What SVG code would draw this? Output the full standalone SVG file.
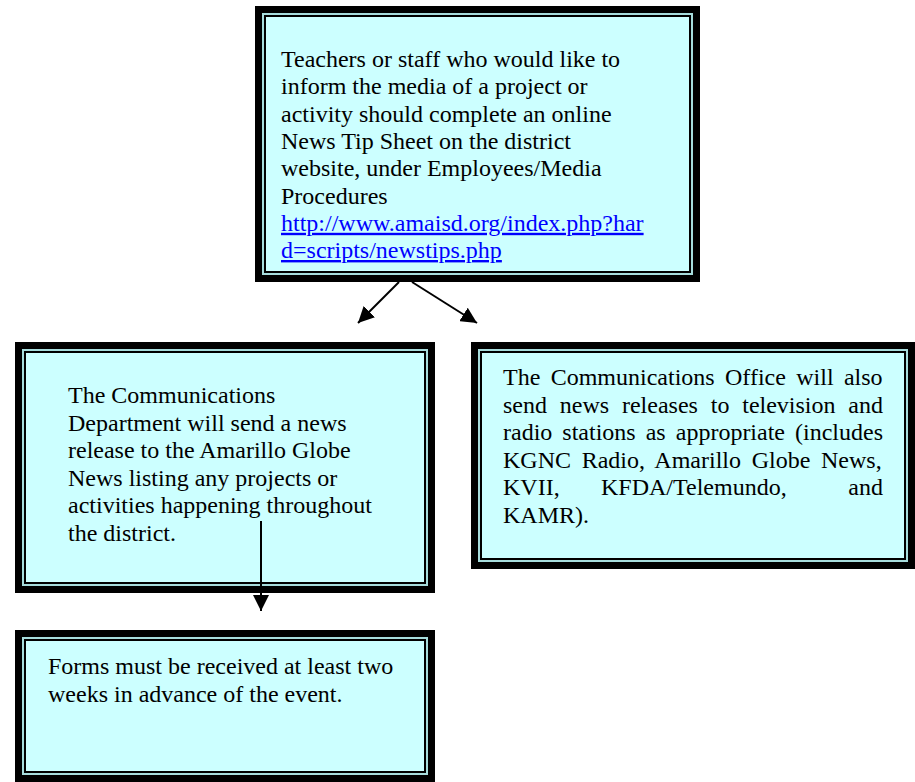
<svg xmlns="http://www.w3.org/2000/svg" width="915" height="782" viewBox="0 0 915 782">
<style>
.o{fill:#000}
.l{fill:#a6dcdc}
.f{fill:#ccffff}
text{font-family:"Liberation Serif","Times New Roman",serif;font-size:24px;fill:#000}
.lnk{fill:#0000ff;text-decoration:underline}
.c{stroke:#000;stroke-width:2;fill:none}
</style>
<defs>
<marker id="ah" viewBox="0 0 16 16" refX="16" refY="8" markerWidth="16" markerHeight="16" markerUnits="userSpaceOnUse" orient="auto">
<path d="M0,0 L16,8 L0,16 Z" fill="#000"/>
</marker>
</defs>
<rect width="915" height="782" fill="#fff"/>

<g id="top">
<rect class="o" x="255" y="6" width="445" height="276"/>
<rect class="l" x="262" y="13" width="431" height="262"/>
<rect class="o" x="264" y="15" width="427" height="258"/>
<rect class="f" x="266" y="17" width="423" height="254"/>
<text x="281" y="67">Teachers or staff who would like to</text>
<text x="281" y="94.3">inform the media of a project or</text>
<text x="281" y="121.6">activity should complete an online</text>
<text x="281" y="148.9">News Tip Sheet on the district</text>
<text x="281" y="176.2">website, under Employees/Media</text>
<text x="281" y="203.5">Procedures</text>
<text class="lnk" x="281" y="230.8">http://www.amaisd.org/index.php?har</text>
<text class="lnk" x="281" y="258">d=scripts/newstips.php</text>
</g>

<g id="left">
<rect class="o" x="15" y="342" width="420" height="251"/>
<rect class="l" x="22" y="349" width="406" height="237"/>
<rect class="o" x="24" y="351" width="402" height="233"/>
<rect class="f" x="26" y="353" width="398" height="229"/>
<text x="68" y="403">The Communications</text>
<text x="68" y="430.5">Department will send a news</text>
<text x="68" y="458">release to the Amarillo Globe</text>
<text x="68" y="485.5">News listing any projects or</text>
<text x="68" y="513">activities happening throughout</text>
<text x="68" y="540.5">the district.</text>
</g>

<g id="right">
<rect class="o" x="471" y="342" width="444" height="227"/>
<rect class="l" x="478" y="349" width="430" height="213"/>
<rect class="o" x="480" y="351" width="426" height="209"/>
<rect class="f" x="482" y="353" width="422" height="205"/>
<text x="503" y="385" word-spacing="4.35">The Communications Office will also</text>
<text x="503" y="412.5" word-spacing="6.82">send news releases to television and</text>
<text x="503" y="440" word-spacing="4.03">radio stations as appropriate (includes</text>
<text x="503" y="467.5" word-spacing="4.68">KGNC Radio, Amarillo Globe News,</text>
<text y="495"><tspan x="503">KVII,</tspan><tspan x="601">KFDA/Telemundo,</tspan><tspan x="883" text-anchor="end">and</tspan></text>
<text x="503" y="522.5">KAMR).</text>
</g>

<g id="bottom">
<rect class="o" x="15" y="630" width="420" height="152"/>
<rect class="l" x="22" y="637" width="406" height="138"/>
<rect class="o" x="24" y="639" width="402" height="134"/>
<rect class="f" x="26" y="641" width="398" height="130"/>
<text x="48" y="674">Forms must be received at least two</text>
<text x="48" y="701.5">weeks in advance of the event.</text>
</g>

<g id="connectors">
<line class="c" x1="399" y1="282" x2="358" y2="323" marker-end="url(#ah)"/>
<line class="c" x1="412" y1="282" x2="477" y2="323" marker-end="url(#ah)"/>
<line class="c" x1="261" y1="521" x2="261" y2="611" marker-end="url(#ah)"/>
</g>
</svg>
